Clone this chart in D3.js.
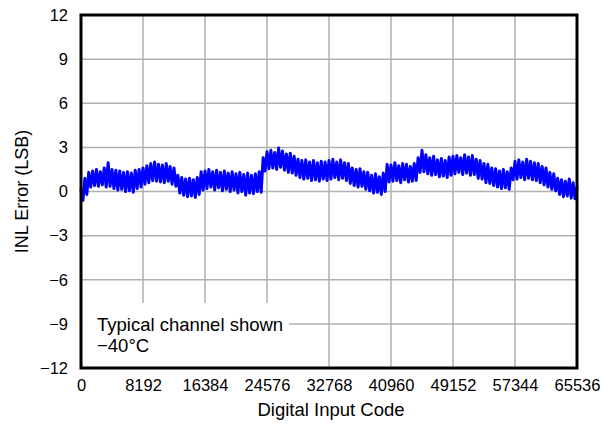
<!DOCTYPE html>
<html>
<head>
<meta charset="utf-8">
<script src="https://cdn.jsdelivr.net/npm/d3@7"></script>
<style>
  html, body { margin: 0; padding: 0; background: #fff; }
  svg { display: block; font-family: "Liberation Sans", Arial, sans-serif; }
</style>
</head>
<body>
<svg id="chart" width="603" height="424"></svg>
<script>
// ---- data ----
const xTickValues = [0, 8192, 16384, 24576, 32768, 40960, 49152, 57344, 65536];
const xTickLabels = ["0", "8192", "16384", "24576", "32768", "40960", "49152", "57344", "65536"];
const yTickValues = [-12, -9, -6, -3, 0, 3, 6, 9, 12];
const yTickLabels = ["\u221212", "\u22129", "\u22126", "\u22123", "0", "3", "6", "9", "12"];
const codeStep = 512;
// local maxima of INL, one every 512 codes starting at code 0
const inlPeaks = [
  0.1, 0.9, 1.3, 1.4, 1.5, 1.35, 1.6, 1.95, 1.5, 1.45, 1.4, 1.3, 1.35, 1.25, 1.45, 1.5,
  1.6, 1.75, 1.9, 2.0, 1.85, 1.8, 1.9, 1.7, 1.6, 1.1, 0.95, 0.85, 0.9, 0.8, 0.95, 1.35,
  1.4, 1.5, 1.35, 1.45, 1.3, 1.4, 1.25, 1.35, 1.2, 1.3, 1.15, 1.25, 1.1, 1.2, 1.35, 2.3,
  2.7, 2.8, 2.65, 2.95, 2.75, 2.55, 2.6, 2.4, 2.2, 2.1, 2.15, 2.0, 2.1, 1.95, 2.05, 2.0,
  2.1, 2.2, 2.0, 2.15, 1.95, 1.9, 1.6, 1.5, 1.55, 1.35, 1.3, 1.1, 1.2, 1.0, 1.25, 1.85,
  1.8, 1.95, 1.75, 1.9, 1.85, 1.7, 1.9, 2.3, 2.8, 2.5, 2.3, 2.4, 2.15, 2.25, 2.1, 2.35,
  2.4, 2.45, 2.3, 2.5, 2.35, 2.45, 2.2, 2.1, 1.9, 1.85, 1.6, 1.55, 1.4, 1.5, 1.35, 1.6,
  2.05, 2.15, 2.0, 2.2, 2.05, 1.95, 1.9, 1.7, 1.6, 1.3, 1.2, 0.9, 0.8, 0.7, 0.85, 0.6, 0.3
];
// local minima of INL, one every 512 codes starting at code 256
const inlTroughs = [
  -0.6, -0.2, 0.3, 0.4, 0.35, 0.45, 0.3, 0.35, 0.2, 0.1, 0.15, 0.0, 0.05, -0.05, 0.2, 0.3,
  0.5, 0.6, 0.75, 0.7, 0.65, 0.6, 0.7, 0.5, 0.35, -0.1, -0.25, -0.35, -0.3, -0.4, -0.2, 0.1,
  0.2, 0.3, 0.1, 0.25, 0.05, 0.15, 0.0, 0.1, -0.1, 0.0, -0.25, -0.1, -0.15, 0.0, -0.05, 1.4,
  1.55, 1.6, 1.5, 1.65, 1.45, 1.3, 1.25, 1.1, 0.95, 0.85, 0.9, 0.75, 0.8, 0.7, 0.85, 0.75,
  0.85, 0.95, 0.8, 0.9, 0.75, 0.55, 0.4, 0.3, 0.35, 0.15, 0.05, -0.1, -0.05, -0.2, 0.0, 0.65,
  0.7, 0.75, 0.6, 0.8, 0.65, 0.7, 0.75, 1.3, 1.35, 1.2, 1.1, 1.15, 1.0, 1.05, 0.95, 1.1,
  1.2, 1.3, 1.15, 1.25, 1.1, 1.15, 0.9, 0.85, 0.6, 0.55, 0.4, 0.3, 0.2, 0.25, 0.15, 0.8,
  0.85, 0.95, 0.8, 0.9, 0.8, 0.75, 0.6, 0.45, 0.3, 0.15, 0.05, -0.2, -0.35, -0.3, -0.45, -0.5
];
const xTitle = "Digital Input Code";
const yTitle = "INL Error (LSB)";
const legendLines = ["Typical channel shown", "\u221240\u00B0C"];

// ---- build series ----
const series = [];
inlPeaks.forEach((v, i) => {
  series.push({ code: i * codeStep, v: v });
  if (i < inlTroughs.length) series.push({ code: i * codeStep + codeStep / 2, v: inlTroughs[i] });
});

// ---- layout ----
const svg = d3.select("#chart");
const L = 81, R = 577, T = 15, B = 368;
const x = d3.scaleLinear().domain([0, 65536]).range([L, R]);
const y = d3.scaleLinear().domain([-12, 12]).range([B, T]);

// gridlines
const grid = svg.append("g");
grid.selectAll("line.v").data(xTickValues.slice(1, -1)).join("line")
  .attr("x1", d => x(d)).attr("x2", d => x(d)).attr("y1", T).attr("y2", B)
  .attr("stroke", "#b0b0b0").attr("stroke-width", 1.5);
grid.selectAll("line.h").data(yTickValues.slice(1, -1)).join("line")
  .attr("x1", L).attr("x2", R).attr("y1", d => y(d)).attr("y2", d => y(d))
  .attr("stroke", "#b0b0b0").attr("stroke-width", 1.5);

// data line
const line = d3.line().x(d => x(d.code)).y(d => y(d.v));
svg.append("path").datum(series)
  .attr("d", line)
  .attr("fill", "none")
  .attr("stroke", "#0000ff")
  .attr("stroke-width", 3)
  .attr("stroke-linejoin", "round")
  .attr("stroke-linecap", "round");

// legend box (white background over grid)
svg.append("rect").attr("x", L + 1).attr("y", 303).attr("width", 288 - L).attr("height", B - 303)
  .attr("fill", "#fff");
svg.append("text").attr("x", 97).attr("y", 331).attr("font-size", 18.5).attr("fill", "#000")
  .text(legendLines[0]);
svg.append("text").attr("x", 97).attr("y", 352).attr("font-size", 18.5).attr("fill", "#000")
  .text(legendLines[1]);

// frame
svg.append("rect").attr("x", L).attr("y", T).attr("width", R - L).attr("height", B - T)
  .attr("fill", "none").attr("stroke", "#000").attr("stroke-width", 3);

// axes (labels only)
const xAxis = d3.axisBottom(x).tickValues(xTickValues)
  .tickFormat((d, i) => xTickLabels[i]).tickSize(0).tickPadding(0);
const gx = svg.append("g").attr("transform", `translate(0,${B + 17})`).call(xAxis);
gx.select(".domain").remove();
gx.selectAll("text").attr("font-size", 16.5).attr("font-family", "Liberation Sans, Arial, sans-serif")
  .attr("fill", "#000").attr("dy", "0.71em").attr("y", -6);

const yAxis = d3.axisLeft(y).tickValues(yTickValues)
  .tickFormat((d, i) => yTickLabels[i]).tickSize(0).tickPadding(0);
const gy = svg.append("g").attr("transform", `translate(${L - 13},0)`).call(yAxis);
gy.select(".domain").remove();
gy.selectAll("text").attr("font-size", 16.5).attr("font-family", "Liberation Sans, Arial, sans-serif")
  .attr("fill", "#000");

// titles
svg.append("text").attr("x", (L + R) / 2 + 2).attr("y", 416).attr("text-anchor", "middle")
  .attr("font-size", 18.5).attr("fill", "#000").text(xTitle);
svg.append("text").attr("transform", `translate(28,${(T + B) / 2}) rotate(-90)`)
  .attr("text-anchor", "middle").attr("font-size", 18).attr("fill", "#000").text(yTitle);
</script>
</body>
</html>
